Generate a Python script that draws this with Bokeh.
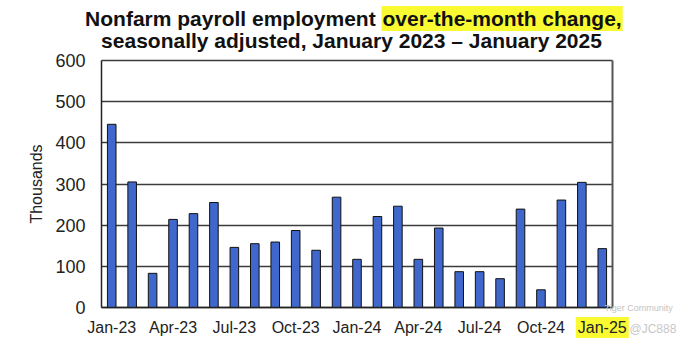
from bokeh.plotting import figure
from bokeh.models import Range1d, Label, FixedTicker, LinearAxis
from bokeh.embed import file_html
from bokeh.resources import INLINE

months = ["Jan-23", "Feb-23", "Mar-23", "Apr-23", "May-23", "Jun-23", "Jul-23", "Aug-23",
          "Sep-23", "Oct-23", "Nov-23", "Dec-23", "Jan-24", "Feb-24", "Mar-24", "Apr-24",
          "May-24", "Jun-24", "Jul-24", "Aug-24", "Sep-24", "Oct-24", "Nov-24", "Dec-24", "Jan-25"]
values = [445, 305, 83, 214, 228, 255, 146, 155, 159, 187, 139, 268,
          117, 221, 246, 117, 193, 87, 87, 70, 239, 43, 261, 304, 143]
y_ticks = [0, 100, 200, 300, 400, 500, 600]
shown_labels = ["Jan-23", "Apr-23", "Jul-23", "Oct-23", "Jan-24", "Apr-24", "Jul-24", "Oct-24"]
highlight_label = "Jan-25"
title_1a = "Nonfarm payroll employment "
title_1b = "over-the-month change,"
title_2 = "seasonally adjusted, January 2023 \u2013 January 2025"
watermark_1 = "Tiger Community"
watermark_2 = "@JC888"

FONT = "Liberation Sans"
W, H = 685, 345
# plotting area in canvas pixels
PL, PR, PT, PB = 101, 612, 60, 307
n = len(months)
ymax = y_ticks[-1]
xs = (PR - PL) / n          # px per category
ys = (PB - PT) / ymax       # px per thousand
def sx(px):
    return (px - PL) / xs - 0.5
def sy(py):
    return (PB - py) / ys

idx = list(range(n))
x_lo, x_hi = -0.5, n - 0.5

p = figure(width=W, height=H, x_range=Range1d(sx(0), sx(W)),
           y_range=Range1d(sy(H), sy(0)), output_backend="svg", toolbar_location=None,
           title=None, min_border=0, min_border_left=0, min_border_right=0,
           min_border_top=0, min_border_bottom=0)
p.outline_line_color = None
p.background_fill_color = "white"

p.vbar(x=idx, top=values, width=0.42, fill_color="#3F67CC",
       line_color="#111111", line_width=1)

yt = FixedTicker(ticks=y_ticks)
xt = FixedTicker(ticks=[i for i, m in enumerate(months) if m in shown_labels])

p.xgrid.grid_line_color = None
p.ygrid.ticker = yt
p.ygrid.grid_line_color = "#3c3c3c"
p.ygrid.grid_line_width = 1.3
p.ygrid.bounds = (0, ymax)
p.ygrid.cross_bounds = (x_lo, x_hi)

p.yaxis.ticker = yt
p.yaxis.fixed_location = x_lo
p.yaxis.bounds = (0, ymax)
p.xaxis.ticker = xt
p.xaxis.fixed_location = 0
p.xaxis.bounds = (x_lo, x_hi)
p.xaxis.major_label_overrides = {i: m for i, m in enumerate(months)}

for ax in (p.xaxis, p.yaxis):
    ax.axis_line_color = "#222222"
    ax.axis_line_width = 1.5
    ax.major_tick_line_color = None
    ax.minor_tick_line_color = None
    ax.major_tick_out = 0
    ax.major_tick_in = 0
    ax.major_label_text_font = FONT
    ax.major_label_text_color = "#222222"

p.yaxis.major_label_text_font_size = "18px"
p.yaxis.major_label_standoff = 16
p.yaxis.axis_label = "Thousands"
p.yaxis.axis_label_text_font = FONT
p.yaxis.axis_label_text_font_style = "normal"
p.yaxis.axis_label_text_font_size = "16px"
p.yaxis.axis_label_text_color = "#222222"
p.yaxis.axis_label_standoff = 7

p.xaxis.major_label_text_font_size = "16px"
p.xaxis.major_label_standoff = 11

right = LinearAxis(ticker=FixedTicker(ticks=[]), fixed_location=x_hi, bounds=(0, ymax),
                   axis_line_color="#555555", axis_line_width=2,
                   major_tick_line_color=None, minor_tick_line_color=None,
                   major_label_text_alpha=0)
p.add_layout(right, "right")

p.add_layout(Label(x=sx(381), y=sy(18), text=title_1a, text_align="right",
                   text_baseline="middle", text_font=FONT, text_font_style="bold",
                   text_font_size="21px", text_color="#111111"))
p.add_layout(Label(x=sx(381), y=sy(18), text=title_1b, text_align="left",
                   text_baseline="middle", text_font=FONT, text_font_style="bold",
                   text_font_size="21px", text_color="#111111",
                   background_fill_color="#FAFA32", padding=1))
p.add_layout(Label(x=sx(351), y=sy(40), text=title_2, text_align="center",
                   text_baseline="middle", text_font=FONT, text_font_style="bold",
                   text_font_size="21px", text_color="#111111"))
p.add_layout(Label(x=n - 1, y=sy(327), text=highlight_label, text_align="center",
                   text_baseline="middle", text_font=FONT, text_font_size="16px",
                   text_color="#222222", background_fill_color="#FAFA32", padding=2))
p.add_layout(Label(x=sx(604), y=sy(307), text=watermark_1, text_align="left",
                   text_baseline="middle", text_font=FONT, text_font_size="9px",
                   text_color="#c4c4c4"))
p.add_layout(Label(x=sx(629), y=sy(328), text=watermark_2, text_align="left",
                   text_baseline="middle", text_font=FONT, text_font_size="12px",
                   text_color="#c8c8c8"))

open("out.html", "w").write(file_html(p, INLINE))
